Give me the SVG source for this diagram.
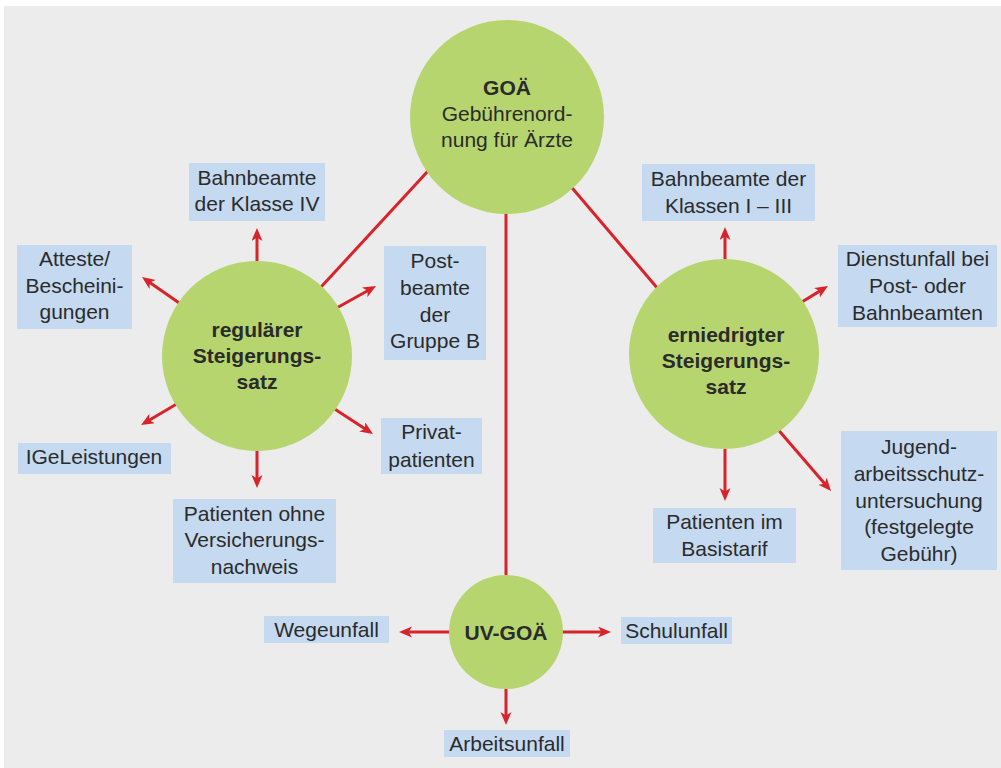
<svg xmlns="http://www.w3.org/2000/svg" width="1001" height="768" viewBox="0 0 1001 768">
<style>
.bg{fill:#ececec}
.c{fill:#b6d56f}
.b{fill:#c5daf1}
.t{font-family:"Liberation Sans",Arial,sans-serif;font-size:21px;fill:#2b2b2b;text-anchor:middle}
.tb{font-weight:bold}
.ln{stroke:#d8232a;stroke-width:3;fill:none}
.ar{stroke:#d8232a;stroke-width:3;fill:none;marker-end:url(#ah)}
</style>
<defs>
<marker id="ah" markerUnits="userSpaceOnUse" markerWidth="14" markerHeight="12" refX="7" refY="5.5" orient="auto" viewBox="0 0 14 12">
<path d="M0,0 L13,5.5 L0,11 L3.5,5.5 Z" fill="#d8232a"/>
</marker>
</defs>
<rect x="0" y="0" width="1001" height="768" fill="#ffffff"/>
<rect class="bg" x="4" y="6" width="997" height="762"/>
<g id="connectors">
<line class="ln" x1="440" y1="158" x2="310" y2="299"/>
<line class="ln" x1="562" y1="176" x2="670" y2="303"/>
<line class="ln" x1="506" y1="200" x2="506" y2="590"/>
<line class="ar" x1="257" y1="270" x2="257" y2="234"/>
<line class="ar" x1="185" y1="307" x2="146.9" y2="280.4"/>
<line class="ar" x1="333" y1="310" x2="370.8" y2="289"/>
<line class="ar" x1="180" y1="402" x2="146.2" y2="422"/>
<line class="ar" x1="330" y1="406" x2="368" y2="430.7"/>
<line class="ar" x1="257" y1="445" x2="257" y2="482"/>
<line class="ar" x1="725" y1="268" x2="725" y2="233"/>
<line class="ar" x1="797" y1="305" x2="822.9" y2="289.1"/>
<line class="ar" x1="725" y1="440" x2="725" y2="495"/>
<line class="ar" x1="775" y1="426" x2="827.1" y2="486.5"/>
<line class="ar" x1="455" y1="632" x2="405" y2="632"/>
<line class="ar" x1="557" y1="632" x2="605" y2="632"/>
<line class="ar" x1="506" y1="683" x2="506" y2="719"/>
</g>
<g id="goae">
<circle class="c" cx="507" cy="117" r="97"/>
<text class="t tb" x="507" y="95">GOÄ</text>
<text class="t" x="507" y="121">Gebührenord-</text>
<text class="t" x="507" y="147">nung für Ärzte</text>
</g>
<g id="regulaer">
<circle class="c" cx="257" cy="356" r="95"/>
<text class="t tb" x="257" y="337">regulärer</text>
<text class="t tb" x="257" y="363">Steigerungs-</text>
<text class="t tb" x="257" y="389">satz</text>
</g>
<g id="erniedrigt">
<circle class="c" cx="724" cy="354" r="95"/>
<text class="t tb" x="726" y="342">erniedrigter</text>
<text class="t tb" x="726" y="368">Steigerungs-</text>
<text class="t tb" x="726" y="394">satz</text>
</g>
<g id="uvgoae">
<circle class="c" cx="506" cy="632" r="57"/>
<text class="t tb" x="506" y="640">UV-GOÄ</text>
</g>
<g id="bahn4">
<rect class="b" x="189" y="163" width="136" height="58"/>
<text class="t" x="257" y="185">Bahnbeamte</text>
<text class="t" x="257" y="211">der Klasse IV</text>
</g>
<g id="atteste">
<rect class="b" x="17" y="245" width="115" height="84"/>
<text class="t" x="74.5" y="266">Atteste/</text>
<text class="t" x="74.5" y="293">Bescheini-</text>
<text class="t" x="74.5" y="319">gungen</text>
</g>
<g id="post">
<rect class="b" x="384" y="246" width="102" height="114"/>
<text class="t" x="435" y="268">Post-</text>
<text class="t" x="435" y="295">beamte</text>
<text class="t" x="435" y="322">der</text>
<text class="t" x="435" y="348">Gruppe B</text>
</g>
<g id="igel">
<rect class="b" x="18" y="443" width="153" height="31"/>
<text class="t" x="94" y="464">IGeLeistungen</text>
</g>
<g id="privat">
<rect class="b" x="381" y="418" width="101" height="56"/>
<text class="t" x="431.5" y="439">Privat-</text>
<text class="t" x="431.5" y="467">patienten</text>
</g>
<g id="ohne">
<rect class="b" x="173" y="499" width="163" height="84"/>
<text class="t" x="254.5" y="521">Patienten ohne</text>
<text class="t" x="254.5" y="547">Versicherungs-</text>
<text class="t" x="254.5" y="574">nachweis</text>
</g>
<g id="bahn13">
<rect class="b" x="642" y="164" width="173" height="57"/>
<text class="t" x="728.5" y="186">Bahnbeamte der</text>
<text class="t" x="728.5" y="213">Klassen I – III</text>
</g>
<g id="dienst">
<rect class="b" x="838" y="245" width="159" height="82"/>
<text class="t" x="917.5" y="266">Dienstunfall bei</text>
<text class="t" x="917.5" y="293">Post- oder</text>
<text class="t" x="917.5" y="320">Bahnbeamten</text>
</g>
<g id="basis">
<rect class="b" x="653" y="508" width="143" height="55"/>
<text class="t" x="724.5" y="529">Patienten im</text>
<text class="t" x="724.5" y="556">Basistarif</text>
</g>
<g id="jugend">
<rect class="b" x="841" y="431" width="156" height="139"/>
<text class="t" x="919" y="454">Jugend-</text>
<text class="t" x="919" y="481">arbeitsschutz-</text>
<text class="t" x="919" y="508">untersuchung</text>
<text class="t" x="919" y="534">(festgelegte</text>
<text class="t" x="919" y="561">Gebühr)</text>
</g>
<g id="wege">
<rect class="b" x="264" y="616" width="125" height="27"/>
<text class="t" x="326.5" y="637">Wegeunfall</text>
</g>
<g id="schul">
<rect class="b" x="621" y="617" width="111" height="27"/>
<text class="t" x="676.5" y="638">Schulunfall</text>
</g>
<g id="arbeit">
<rect class="b" x="444" y="730" width="126" height="27"/>
<text class="t" x="507" y="751">Arbeitsunfall</text>
</g>
</svg>
